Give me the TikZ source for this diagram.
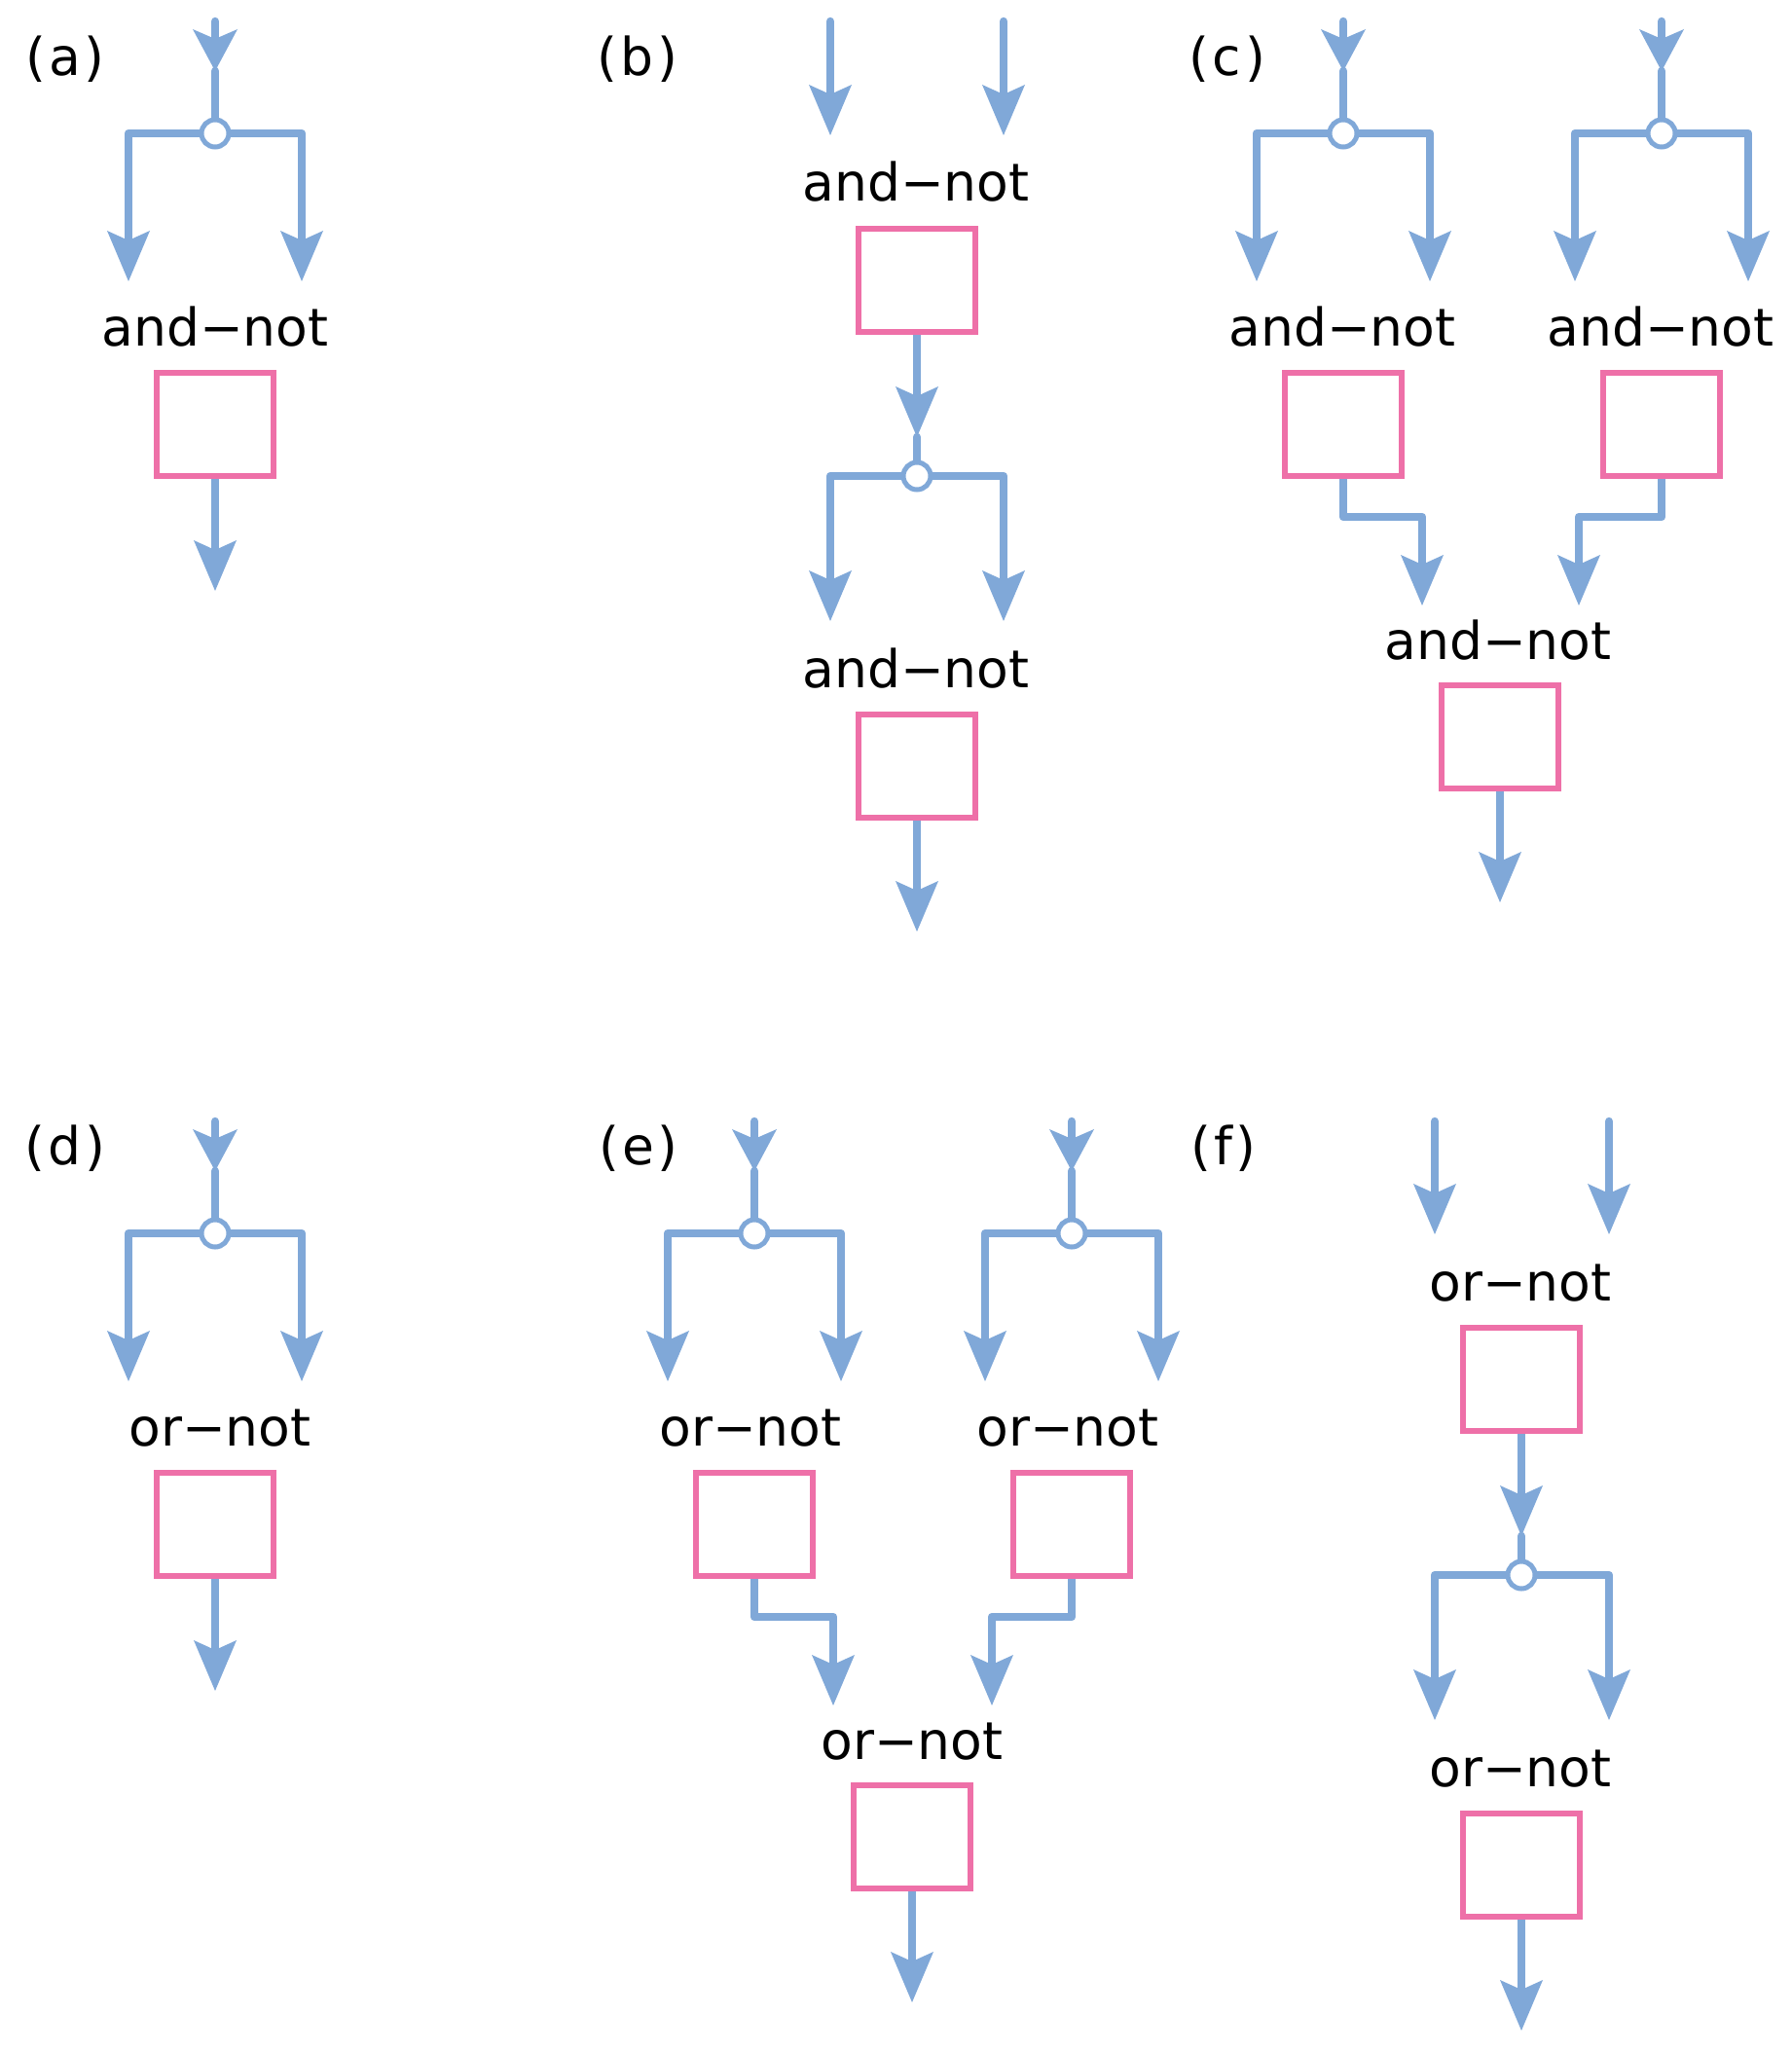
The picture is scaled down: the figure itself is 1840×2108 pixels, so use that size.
\documentclass[tikz,border=0pt]{standalone}
\usepackage{fontspec}
\setmainfont{DejaVu Sans}
\usetikzlibrary{arrows.meta}
\definecolor{lineblue}{RGB}{128,168,216}
\definecolor{boxpink}{RGB}{238,112,168}
\pgfdeclarelayer{bg}
\pgfsetlayers{bg,main}
\newcommand\bigfont{\fontsize{53.5pt}{60pt}\selectfont}
\tikzset{
  conn/.style={draw=lineblue, line width=8.5pt, line cap=round, line join=round},
  arr/.style={conn, -{Stealth[length=52pt,width=44pt,inset=10pt,line width=0pt]}},
  arrtop/.style={conn, -{Stealth[length=43pt,width=46pt,inset=10pt,line width=0pt]}},
  gate/.style={draw=boxpink, line width=6pt, minimum width=120pt, minimum height=106pt, inner sep=0pt, fill=white},
  junc/.style={circle, draw=lineblue, line width=5pt, minimum size=28pt, inner sep=0pt, fill=white},
  op/.style={anchor=base, font=\bigfont, inner sep=0pt},
  tag/.style={anchor=base, font=\bigfont, inner sep=0pt}
}
\begin{document}
\begin{tikzpicture}[x=1pt,y=-1pt]
\useasboundingbox (0,0) rectangle (1840,2108);

% ---------------- (a) ----------------
\node[tag] (la) at (67,78) {(\kern3pt a\kern4pt)};
\coordinate (aTop) at (221,22);
\coordinate (aMid) at (221,73);
\node[junc] (aJ) at (221,137) {};
\coordinate (aL) at (132,289);
\coordinate (aR) at (310,289);
\node[op] (aT) at (221,355) {and−not};
\node[gate] (aG) at (221,436) {};
\coordinate (aOut) at (221,607);
\begin{pgfonlayer}{bg}
\draw[arrtop] (aTop) -- (aMid);
\draw[conn] (aMid) -- (aJ);
\draw[arr] (aJ) -| (aL);
\draw[arr] (aJ) -| (aR);
\draw[arr] (aG) -- (aOut);
\end{pgfonlayer}

% ---------------- (b) ----------------
\node[tag] (lb) at (655,78) {(\kern3pt b\kern4pt)};
\coordinate (bIn1) at (853,22);
\coordinate (bIn1e) at (853,139);
\coordinate (bIn2) at (1031,22);
\coordinate (bIn2e) at (1031,139);
\node[op] (bT1) at (941,207) {and−not};
\node[gate] (bG1) at (942,288) {};
\coordinate (bMid) at (942,449);
\node[junc] (bJ) at (942,489) {};
\coordinate (bL) at (853,638);
\coordinate (bR) at (1031,638);
\node[op] (bT2) at (941,706) {and−not};
\node[gate] (bG2) at (942,787) {};
\coordinate (bOut) at (942,957);
\begin{pgfonlayer}{bg}
\draw[arr] (bIn1) -- (bIn1e);
\draw[arr] (bIn2) -- (bIn2e);
\draw[arr] (bG1) -- (bMid);
\draw[conn] (bMid) -- (bJ);
\draw[arr] (bJ) -| (bL);
\draw[arr] (bJ) -| (bR);
\draw[arr] (bG2) -- (bOut);
\end{pgfonlayer}

% ---------------- (c) ----------------
\node[tag] (lc) at (1261,78) {(\kern3pt c\kern4pt)};
\coordinate (c1Top) at (1380,22);
\coordinate (c1Mid) at (1380,73);
\node[junc] (c1J) at (1380,137) {};
\coordinate (c1L) at (1291,289);
\coordinate (c1R) at (1469,289);
\node[op] (c1T) at (1379,355) {and−not};
\node[gate] (c1G) at (1380,436) {};
\coordinate (c2Top) at (1707,22);
\coordinate (c2Mid) at (1707,73);
\node[junc] (c2J) at (1707,137) {};
\coordinate (c2L) at (1618,289);
\coordinate (c2R) at (1796,289);
\node[op] (c2T) at (1706,355) {and−not};
\node[gate] (c2G) at (1707,436) {};
\coordinate (cB1) at (1461,531);
\coordinate (cB2) at (1622,531);
\coordinate (cE1) at (1461,622);
\coordinate (cE2) at (1622,622);
\node[op] (c3T) at (1539,677) {and−not};
\node[gate] (c3G) at (1541,757) {};
\coordinate (cOut) at (1541,927);
\begin{pgfonlayer}{bg}
\draw[arrtop] (c1Top) -- (c1Mid);
\draw[conn] (c1Mid) -- (c1J);
\draw[arr] (c1J) -| (c1L);
\draw[arr] (c1J) -| (c1R);
\draw[arrtop] (c2Top) -- (c2Mid);
\draw[conn] (c2Mid) -- (c2J);
\draw[arr] (c2J) -| (c2L);
\draw[arr] (c2J) -| (c2R);
\draw[arr] (c1G) |- (cB1) -- (cE1);
\draw[arr] (c2G) |- (cB2) -- (cE2);
\draw[arr] (c3G) -- (cOut);
\end{pgfonlayer}

% ---------------- (d) ----------------
\node[tag] (ld) at (67,1196) {(\kern3pt d\kern4pt)};
\coordinate (dTop) at (221,1152);
\coordinate (dMid) at (221,1203);
\node[junc] (dJ) at (221,1267) {};
\coordinate (dL) at (132,1419);
\coordinate (dR) at (310,1419);
\node[op] (dT) at (226,1485) {or−not};
\node[gate] (dG) at (221,1566) {};
\coordinate (dOut) at (221,1737);
\begin{pgfonlayer}{bg}
\draw[arrtop] (dTop) -- (dMid);
\draw[conn] (dMid) -- (dJ);
\draw[arr] (dJ) -| (dL);
\draw[arr] (dJ) -| (dR);
\draw[arr] (dG) -- (dOut);
\end{pgfonlayer}

% ---------------- (e) ----------------
\node[tag] (le) at (656,1196) {(\kern3pt e\kern4pt)};
\coordinate (e1Top) at (775,1152);
\coordinate (e1Mid) at (775,1203);
\node[junc] (e1J) at (775,1267) {};
\coordinate (e1L) at (686,1419);
\coordinate (e1R) at (864,1419);
\node[op] (e1T) at (771,1485) {or−not};
\node[gate] (e1G) at (775,1566) {};
\coordinate (e2Top) at (1101,1152);
\coordinate (e2Mid) at (1101,1203);
\node[junc] (e2J) at (1101,1267) {};
\coordinate (e2L) at (1012,1419);
\coordinate (e2R) at (1190,1419);
\node[op] (e2T) at (1097,1485) {or−not};
\node[gate] (e2G) at (1101,1566) {};
\coordinate (eB1) at (856,1661);
\coordinate (eB2) at (1019,1661);
\coordinate (eE1) at (856,1752);
\coordinate (eE2) at (1019,1752);
\node[op] (e3T) at (937,1807) {or−not};
\node[gate] (e3G) at (937,1887) {};
\coordinate (eOut) at (937,2057);
\begin{pgfonlayer}{bg}
\draw[arrtop] (e1Top) -- (e1Mid);
\draw[conn] (e1Mid) -- (e1J);
\draw[arr] (e1J) -| (e1L);
\draw[arr] (e1J) -| (e1R);
\draw[arrtop] (e2Top) -- (e2Mid);
\draw[conn] (e2Mid) -- (e2J);
\draw[arr] (e2J) -| (e2L);
\draw[arr] (e2J) -| (e2R);
\draw[arr] (e1G) |- (eB1) -- (eE1);
\draw[arr] (e2G) |- (eB2) -- (eE2);
\draw[arr] (e3G) -- (eOut);
\end{pgfonlayer}

% ---------------- (f) ----------------
\node[tag] (lf) at (1257,1196) {(\kern3pt f\kern4pt)};
\coordinate (fIn1) at (1474,1152);
\coordinate (fIn1e) at (1474,1268);
\coordinate (fIn2) at (1653,1152);
\coordinate (fIn2e) at (1653,1268);
\node[op] (fT1) at (1562,1336) {or−not};
\node[gate] (fG1) at (1563,1417) {};
\coordinate (fMid) at (1563,1578);
\node[junc] (fJ) at (1563,1618) {};
\coordinate (fL) at (1474,1767);
\coordinate (fR) at (1653,1767);
\node[op] (fT2) at (1562,1835) {or−not};
\node[gate] (fG2) at (1563,1916) {};
\coordinate (fOut) at (1563,2086);
\begin{pgfonlayer}{bg}
\draw[arr] (fIn1) -- (fIn1e);
\draw[arr] (fIn2) -- (fIn2e);
\draw[arr] (fG1) -- (fMid);
\draw[conn] (fMid) -- (fJ);
\draw[arr] (fJ) -| (fL);
\draw[arr] (fJ) -| (fR);
\draw[arr] (fG2) -- (fOut);
\end{pgfonlayer}
\end{tikzpicture}
\end{document}
